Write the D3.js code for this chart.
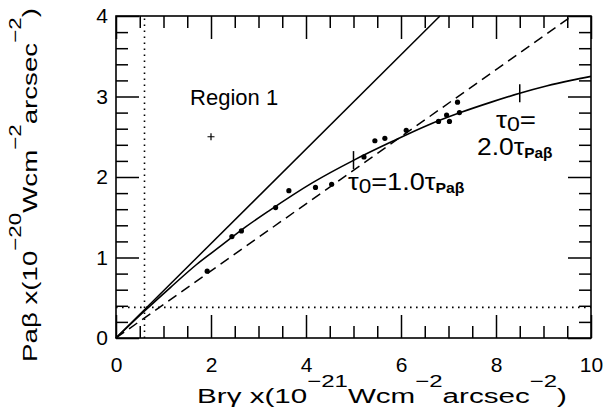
<!DOCTYPE html>
<html>
<head>
<meta charset="utf-8">
<script src="https://cdn.jsdelivr.net/npm/d3@7"></script>
<style>
  html, body { margin: 0; padding: 0; background: #fff; }
  svg { display: block; font-family: "Liberation Sans", Arial, sans-serif; }
</style>
</head>
<body>
<svg id="chart" width="606" height="410"></svg>
<script>
// ---------- data ----------
const xMajorTicks = [0, 2, 4, 6, 8, 10];
const xMinorTicks = [0.5, 1, 1.5, 2.5, 3, 3.5, 4.5, 5, 5.5, 6.5, 7, 7.5, 8.5, 9, 9.5];
const yMajorTicks = [0, 1, 2, 3, 4];
const yMinorTicks = [0.2, 0.4, 0.6, 0.8, 1.2, 1.4, 1.6, 1.8, 2.2, 2.4, 2.6, 2.8, 3.2, 3.4, 3.6, 3.8];
const xTickLabels = ["0", "2", "4", "6", "8", "10"];
const yTickLabels = ["0", "1", "2", "3", "4"];

// observed points (Bry, Pa beta)
const pointX = [1.92, 2.44, 2.64, 3.36, 3.64, 4.20, 4.54, 5.22, 5.45, 5.66, 6.11, 6.79, 6.96, 7.02, 7.19, 7.23];
const pointY = [0.83, 1.26, 1.33, 1.62, 1.83, 1.87, 1.91, 2.25, 2.45, 2.48, 2.58, 2.69, 2.77, 2.69, 2.93, 2.80];

// Region 1 marker
const regionX = [2.0];
const regionY = [2.5];

// model curve (solid, bending)
const curveX = [0, 0.59, 1.15, 1.69, 2.22, 2.73, 3.22, 4.14, 5.01, 5.81, 6.55, 7.25, 7.90, 8.50, 9.06, 9.58, 10.0];
const curveY = [0, 0.33, 0.63, 0.91, 1.15, 1.38, 1.58, 1.93, 2.21, 2.44, 2.64, 2.80, 2.93, 3.04, 3.13, 3.20, 3.25];

// tau markers on the curve
const tauMarkX = [5.0, 8.5];
const tauMarkY = [2.21, 3.04];

// straight solid line and dashed line
const solidLineX = [0, 6.82];
const solidLineY = [0, 4];
const dashLineX = [0, 9.6];
const dashLineY = [0, 4];

// dotted limits
const dotLimitX = 0.6;
const dotLimitY = 0.38;

// ---------- layout ----------
const svg = d3.select("#chart");
const pL = 116, pR = 591, pT = 16, pB = 338;
const x = d3.scaleLinear().domain([0, 10]).range([pL, pR]);
const y = d3.scaleLinear().domain([0, 4]).range([pB, pT]);
const FS = 21;

// dotted lines
svg.append("line")
  .attr("x1", x(dotLimitX)).attr("x2", x(dotLimitX))
  .attr("y1", y(0)).attr("y2", y(4))
  .attr("stroke", "#000").attr("stroke-width", 1.6).attr("stroke-dasharray", "1.6,4.4");
svg.append("line")
  .attr("x1", x(0)).attr("x2", x(10))
  .attr("y1", y(dotLimitY)).attr("y2", y(dotLimitY))
  .attr("stroke", "#000").attr("stroke-width", 1.6).attr("stroke-dasharray", "1.6,4.4");

// lines
const ln = d3.line().x(d => x(d[0])).y(d => y(d[1]));
svg.append("path")
  .attr("d", ln(d3.zip(solidLineX, solidLineY)))
  .attr("fill", "none").attr("stroke", "#000").attr("stroke-width", 1.5);
svg.append("path")
  .attr("d", ln(d3.zip(dashLineX, dashLineY)))
  .attr("fill", "none").attr("stroke", "#000").attr("stroke-width", 1.5)
  .attr("stroke-dasharray", "10,6");
svg.append("path")
  .attr("d", d3.line().x(d => x(d[0])).y(d => y(d[1])).curve(d3.curveMonotoneX)(d3.zip(curveX, curveY)))
  .attr("fill", "none").attr("stroke", "#000").attr("stroke-width", 1.6);

// tau markers
svg.selectAll(".taumark").data(d3.zip(tauMarkX, tauMarkY)).enter().append("line")
  .attr("x1", d => x(d[0])).attr("x2", d => x(d[0]))
  .attr("y1", d => y(d[1]) - 9).attr("y2", d => y(d[1]) + 9)
  .attr("stroke", "#000").attr("stroke-width", 1.5);

// points
svg.selectAll(".pt").data(d3.zip(pointX, pointY)).enter().append("circle")
  .attr("cx", d => x(d[0])).attr("cy", d => y(d[1])).attr("r", 2.6).attr("fill", "#000");

// region plus
svg.selectAll(".reg").data(d3.zip(regionX, regionY)).enter().append("path")
  .attr("d", d => `M${x(d[0]) - 3.5},${y(d[1])}H${x(d[0]) + 3.5}M${x(d[0])},${y(d[1]) - 3.5}V${y(d[1]) + 3.5}`)
  .attr("stroke", "#000").attr("stroke-width", 1.2);

// axes
function styleAxis(g) {
  g.select(".domain").remove();
  g.selectAll("line").attr("stroke", "#000").attr("stroke-width", 1.5);
  g.selectAll("text").attr("font-size", FS).attr("fill", "#000")
    .attr("font-family", "'Liberation Sans', Arial, sans-serif");
}
svg.append("g").attr("transform", `translate(0,${pB})`)
  .call(d3.axisBottom(x).tickValues(xMajorTicks).tickSize(-23).tickPadding(19)
    .tickFormat((d, i) => xTickLabels[i])).call(styleAxis);
svg.append("g").attr("transform", `translate(0,${pB})`)
  .call(d3.axisBottom(x).tickValues(xMinorTicks).tickSize(-12).tickFormat("")).call(styleAxis);
svg.append("g").attr("transform", `translate(0,${pT})`)
  .call(d3.axisTop(x).tickValues(xMajorTicks).tickSize(-23).tickFormat("")).call(styleAxis);
svg.append("g").attr("transform", `translate(0,${pT})`)
  .call(d3.axisTop(x).tickValues(xMinorTicks).tickSize(-12).tickFormat("")).call(styleAxis);
svg.append("g").attr("transform", `translate(${pL},0)`)
  .call(d3.axisLeft(y).tickValues(yMajorTicks).tickSize(-23).tickPadding(8)
    .tickFormat((d, i) => yTickLabels[i])).call(styleAxis);
svg.append("g").attr("transform", `translate(${pL},0)`)
  .call(d3.axisLeft(y).tickValues(yMinorTicks).tickSize(-12).tickFormat("")).call(styleAxis);
svg.append("g").attr("transform", `translate(${pR},0)`)
  .call(d3.axisRight(y).tickValues(yMajorTicks).tickSize(-23).tickFormat("")).call(styleAxis);
svg.append("g").attr("transform", `translate(${pR},0)`)
  .call(d3.axisRight(y).tickValues(yMinorTicks).tickSize(-12).tickFormat("")).call(styleAxis);

// frame
svg.append("rect").attr("x", pL).attr("y", pT).attr("width", pR - pL).attr("height", pB - pT)
  .attr("fill", "none").attr("stroke", "#000").attr("stroke-width", 1.6);

// stretch a text horizontally (in its own frame) to a target width
function stretchTo(textSel, target) {
  const w = textSel.node().getBBox().width;
  return w > 0 ? target / w : 1;
}

// axis titles with superscripts (dy relative to the previous tspan)
const RAISE = 16;
function titleParts(t, parts) {
  let cur = 0;
  parts.forEach(p => {
    const off = p.sup ? -RAISE : 0;
    t.append("tspan").attr("font-size", p.sup ? 17 : FS).attr("dy", off - cur).text(p.s);
    cur = off;
  });
}
const xg = svg.append("g");
const xt = xg.append("text").attr("x", 0).attr("y", 0).attr("text-anchor", "middle").attr("fill", "#000");
titleParts(xt, [{s: "Br\u03B3 x(10"}, {s: "\u221221", sup: true}, {s: "Wcm"}, {s: "\u22122", sup: true},
  {s: "arcsec"}, {s: "\u22122", sup: true}, {s: ")"}]);
xg.attr("transform", `translate(382,403) scale(${stretchTo(xt, 370)},1)`);

const yg = svg.append("g");
const yt = yg.append("text").attr("x", 0).attr("y", 0).attr("text-anchor", "middle").attr("fill", "#000");
titleParts(yt, [{s: "Pa\u03B2 x(10"}, {s: "\u221220", sup: true}, {s: "Wcm"}, {s: "\u22122", sup: true},
  {s: "arcsec"}, {s: "\u22122", sup: true}, {s: ")"}]);
yg.attr("transform", `translate(37,185) rotate(-90) scale(${stretchTo(yt, 354)},1)`);

// Region label
svg.append("text").attr("x", x(1.56)).attr("y", y(2.89)).attr("font-size", 22).attr("fill", "#000").text("Region 1");

// tau labels
const TFS = 24;
function tauText(px, py, target, parts) {
  const g = svg.append("g");
  const t = g.append("text").attr("x", 0).attr("y", 0).attr("fill", "#000").attr("font-size", TFS);
  let cur = 0;
  parts.forEach(p => {
    const sp = t.append("tspan").attr("dy", (p.off || 0) - cur).text(p.s);
    if (p.fs) sp.attr("font-size", p.fs);
    if (p.bold) sp.attr("font-weight", "bold");
    cur = p.off || 0;
  });
  g.attr("transform", `translate(${px},${py}) scale(${stretchTo(t, target)},1)`);
}
const TAU = {s: "\u03C4"}, SUB0 = {s: "0", fs: 20, off: 3}, PAB = {s: "Pa\u03B2", fs: 14, bold: true, off: 3};
tauText(348, 190, 117, [TAU, SUB0, {s: "=1.0"}, TAU, PAB]);
tauText(496, 128, 40, [TAU, SUB0, {s: "="}]);
tauText(477, 155, 76, [{s: "2.0"}, TAU, PAB]);
</script>
</body>
</html>
